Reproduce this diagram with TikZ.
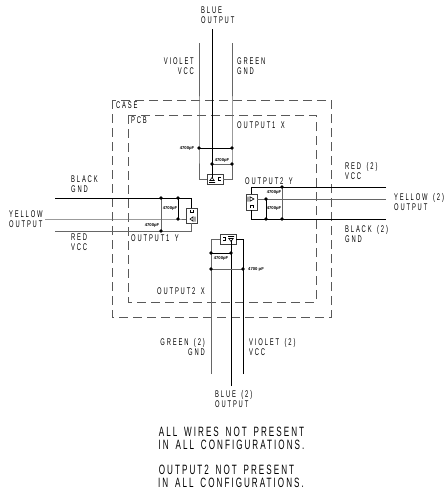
\documentclass[tikz,border=0pt]{standalone}
\usepackage{fontspec}
\setmainfont{Liberation Sans}
\newfontfamily\lblfont[FakeStretch=0.6,LetterSpace=19,WordSpace=1.6]{Liberation Sans}
\newfontfamily\notefont[FakeStretch=0.6,LetterSpace=15,WordSpace=1.6]{Liberation Sans}
\tikzset{
  every picture/.style={x=1pt,y=-1pt},
  lbl/.style={inner sep=0pt,align=left,anchor=west,font=\lblfont\fontsize{9.7}{10.2}\selectfont},
  note/.style={inner sep=0pt,align=center,font=\notefont\fontsize{13.5}{13}\selectfont},
  capl/.style={inner sep=0pt,font=\fontsize{4.2}{4.4}\selectfont\bfseries},
  wire/.style={draw=black,line width=0.8pt},
  gwire/.style={draw=black!60,line width=1pt},
  bound/.style={draw=black!65,line width=0.9pt,dash pattern=on 9pt off 5pt},
  conn/.style={draw=black!75,fill=white,line width=0.8pt,inner sep=0pt},
  pinm/.style={draw=black,line width=0.6pt},
  jn/.style={circle,fill=black,inner sep=0pt,minimum size=3.6pt},
}
\begin{document}
\begin{tikzpicture}
\useasboundingbox (0,0) rectangle (445,491);
\draw[bound] (112,100) rectangle (331,317);
\draw[bound] (128,115) rectangle (316,302);
% top
\coordinate (j1) at (199,148);\coordinate (j2) at (232,148);\coordinate (j3) at (212,164);\coordinate (j4) at (232,164);
\coordinate (tvt) at (199,43);\coordinate (tbt) at (212,29);\coordinate (tgt) at (232,43);
\node[conn,minimum width=16pt,minimum height=10pt] (bt) at (215,179) {};
\draw[gwire] (tvt) -- (j1) |- (bt.west);
\draw[wire] (tbt) -- (212,178);
\draw[gwire] (tgt) -- (j2) |- (bt.east);
\draw[wire] (j1) -- (j2);
\draw[gwire] (j3) -- (j4);
\foreach \n in {j1,j2,j3,j4}\node[jn] at (\n) {};
\draw[pinm] (209,182.5) -- (215,182.5) (212,177.5) -- (209.8,180.5) -- (214.2,180.5) -- cycle;
\draw[pinm] (220.5,177.5) -- (218.5,177.5) -- (218.5,180.5) -- (220.5,180.5);
% left
\coordinate (l1) at (161,198);\coordinate (l2) at (161,231);\coordinate (l3) at (178,198);\coordinate (l4) at (178,219);
\coordinate (lk) at (55,198);\coordinate (ly) at (45,219);\coordinate (lr) at (55,231);
\node[conn,minimum width=11pt,minimum height=15pt] (bl) at (191.5,215.5) {};
\draw[wire] (lk) -| (bl.north);
\draw[gwire] (ly) -- (l4) -- (bl.west |- l4);
\draw[gwire] (lr) -| (bl.south);
\draw[gwire] (l1) -- (l2);
\draw[wire] (l3) -- (l4);
\foreach \n in {l1,l2,l3,l4}\node[jn] at (\n) {};
\draw[pinm] (190,210) -- (190,212.5) -- (193,212.5) -- (193,210);
\draw[pinm] (195,216.5) -- (195,221.5) (190,219) -- (193,216.8) -- (193,221.2) -- cycle;
% right
\coordinate (r1) at (282,187);\coordinate (r2) at (282,219);\coordinate (r3) at (266,199);\coordinate (r4) at (266,219);
\coordinate (rr) at (386,187);\coordinate (ry) at (386,199);\coordinate (rk) at (386,219);
\node[conn,minimum width=11pt,minimum height=16pt] (br) at (251.5,202) {};
\draw[wire] (rr) -| (br.north);
\draw[gwire] (ry) -- (br.east |- ry);
\draw[wire] (rk) -| (br.south);
\draw[gwire] (r1) -- (r2);
\draw[wire] (r3) -- (r4);
\foreach \n in {r1,r2,r3,r4}\node[jn] at (\n) {};
\draw[pinm] (248,196.5) -- (248,201.5) (254,199) -- (250,196.8) -- (250,201.2) -- cycle;
\draw[pinm] (250,208) -- (250,205.5) -- (253,205.5) -- (253,208);
% bottom
\coordinate (b1) at (211,253);\coordinate (b2) at (231,253);\coordinate (b3) at (211,269);\coordinate (b4) at (243,269);
\coordinate (bg) at (211,374);\coordinate (bb2) at (231,386);\coordinate (bv) at (243,374);
\node[conn,minimum width=16pt,minimum height=10pt] (bb) at (228,239) {};
\draw[gwire] (bg) |- (bb.west);
\draw[wire] (bb2) -- (231,240);
\draw[wire] (bv) |- (bb.east);
\draw[wire] (b1) -- (b2);
\draw[gwire] (b3) -- (b4);
\foreach \n in {b1,b2,b3,b4}\node[jn] at (\n) {};
\draw[pinm] (228,236.5) -- (234,236.5) (231,241.5) -- (228.8,238.5) -- (233.2,238.5) -- cycle;
\draw[pinm] (223,237) -- (225.5,237) -- (225.5,240.5) -- (223,240.5);
% cap labels
\node[capl] (c1) at (187,148) {4700pF};
\node[capl] (c2) at (222,160) {4700pF};
\node[capl] (c3) at (170,208) {4700pF};
\node[capl] (c4) at (152,225) {4700pF};
\node[capl] (c5) at (274,192) {4700pF};
\node[capl] (c6) at (274,208) {4700pF};
\node[capl] (c7) at (221,258) {4700pF};
\node[capl] (c8) at (256,269) {4700 pF};
% labels
\node[lbl] (blue) at (201,15.5) {BLUE\\OUTPUT};
\node[lbl,align=right,anchor=east] (vio) at (194,66) {VIOLET\\VCC};
\node[lbl] (gr) at (237,66) {GREEN\\GND};
\node[lbl] (case) at (116,105.5) {CASE};
\node[lbl] (pcb) at (131,120) {PCB};
\node[lbl] (o1x) at (237,125) {OUTPUT1 X};
\node[lbl] (o2y) at (245,181) {OUTPUT2 Y};
\node[lbl] (o1y) at (131,238) {OUTPUT1 Y};
\node[lbl] (o2x) at (157,291) {OUTPUT2 X};
\node[lbl] (bk) at (71,184) {BLACK\\GND};
\node[lbl] (yel) at (9,219) {YELLOW\\OUTPUT};
\node[lbl] (red) at (71,242) {RED\\VCC};
\node[lbl] (red2) at (345,171) {RED (2)\\VCC};
\node[lbl] (yel2) at (394,202) {YELLOW (2)\\OUTPUT};
\node[lbl] (bk2) at (345,234) {BLACK (2)\\GND};
\node[lbl,align=right,anchor=east] (gr2) at (205,347) {GREEN (2)\\GND};
\node[lbl] (vi2) at (249,347) {VIOLET (2)\\VCC};
\node[lbl] (bl2) at (215,399) {BLUE (2)\\OUTPUT};
\node[note] (n1) at (231.5,438.5) {ALL WIRES NOT PRESENT\\IN ALL CONFIGURATIONS.};
\node[note] (n2) at (226.5,470) {OUTPUT2 NOT PRESENT};
\node[note] (n3) at (231,483) {IN ALL CONFIGURATIONS.};
\end{tikzpicture}
\end{document}
